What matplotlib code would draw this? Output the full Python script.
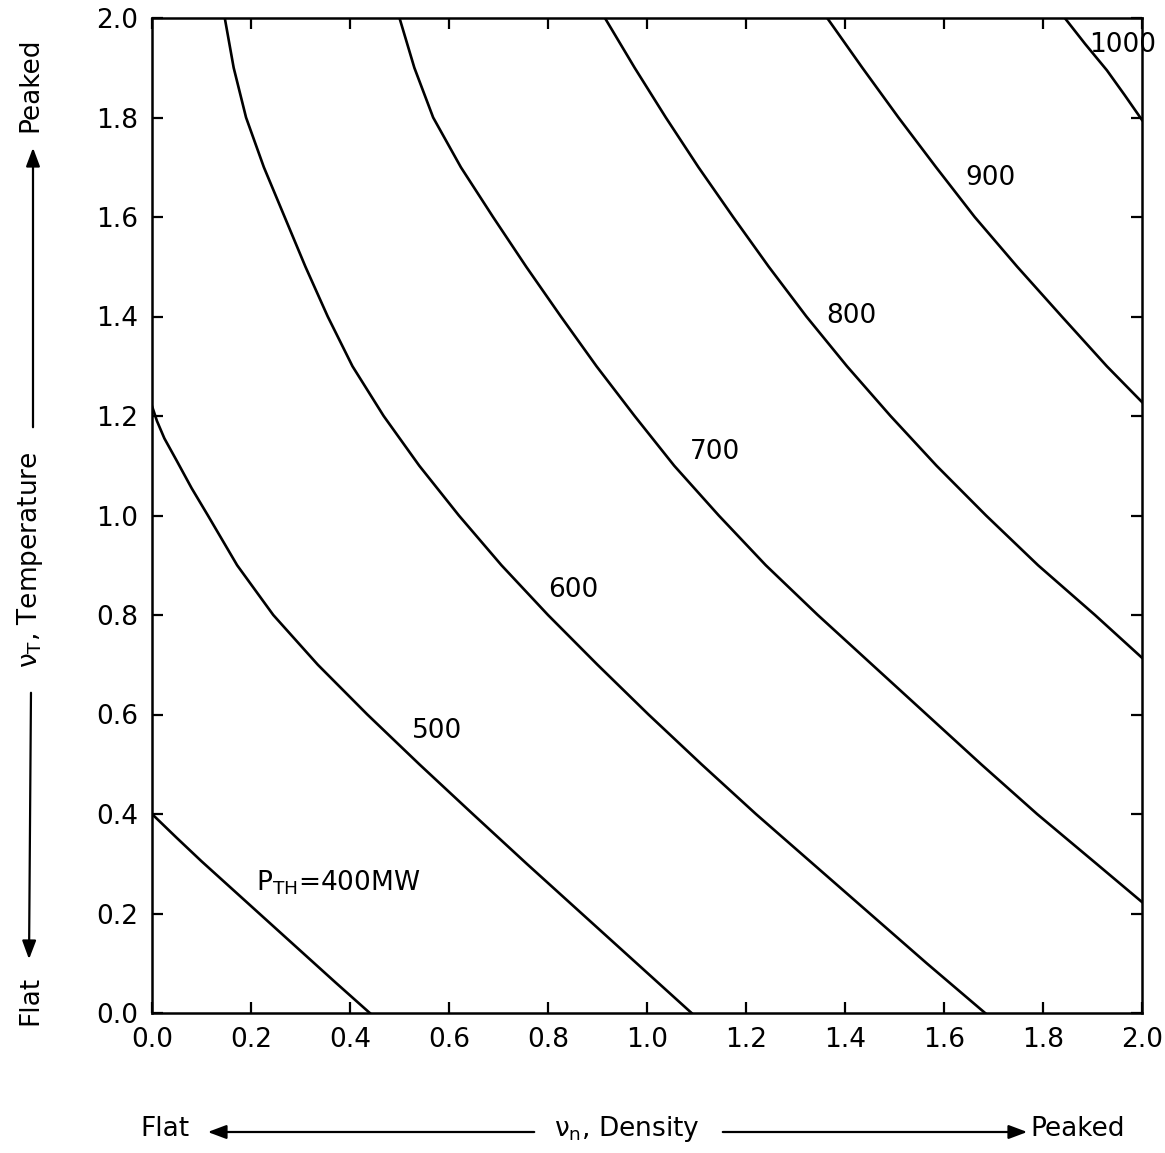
import matplotlib.pyplot as plt
from matplotlib.patches import FancyArrowPatch

plt.rcParams['font.family'] = ['DejaVu Sans']
plt.rcParams['mathtext.fontset'] = 'dejavusans'

# Contour levels of thermal power (MW)
levels = [400, 500, 600, 700, 800, 900, 1000]

# nu_n (x) and nu_T (y) points along each contour
x_400 = [0.0, 0.05, 0.1, 0.2, 0.3, 0.37, 0.44]
y_400 = [0.40, 0.352, 0.305, 0.215, 0.125, 0.062, 0.0]

x_500 = [0.0, 0.01, 0.025, 0.05, 0.08, 0.113, 0.172, 0.245, 0.335, 0.435,
         0.54, 0.648, 0.757, 0.868, 0.979, 1.09]
y_500 = [1.22, 1.19, 1.155, 1.11, 1.055, 1.0, 0.9, 0.8, 0.7, 0.6,
         0.5, 0.4, 0.3, 0.2, 0.1, 0.0]

x_600 = [0.147, 0.165, 0.19, 0.226, 0.268, 0.31, 0.355, 0.405, 0.468, 0.54,
         0.62, 0.706, 0.8, 0.9, 1.003, 1.11, 1.22, 1.335, 1.45, 1.565, 1.683]
y_600 = [2.0, 1.9, 1.8, 1.7, 1.6, 1.5, 1.4, 1.3, 1.2, 1.1,
         1.0, 0.9, 0.8, 0.7, 0.6, 0.5, 0.4, 0.3, 0.2, 0.1, 0.0]

x_700 = [0.5, 0.53, 0.568, 0.624, 0.689, 0.756, 0.826, 0.898, 0.975, 1.055,
         1.145, 1.24, 1.345, 1.455, 1.565, 1.675, 1.788, 1.908, 2.0]
y_700 = [2.0, 1.9, 1.8, 1.7, 1.6, 1.5, 1.4, 1.3, 1.2, 1.1,
         1.0, 0.9, 0.8, 0.7, 0.6, 0.5, 0.4, 0.3, 0.223]

x_800 = [0.915, 0.975, 1.038, 1.104, 1.174, 1.246, 1.322, 1.404, 1.492, 1.585,
         1.685, 1.79, 1.905, 2.0]
y_800 = [2.0, 1.9, 1.8, 1.7, 1.6, 1.5, 1.4, 1.3, 1.2, 1.1,
         1.0, 0.9, 0.8, 0.714]

x_900 = [1.364, 1.435, 1.508, 1.584, 1.662, 1.748, 1.838, 1.929, 2.0]
y_900 = [2.0, 1.9, 1.8, 1.7, 1.6, 1.5, 1.4, 1.3, 1.228]

x_1000 = [1.844, 1.885, 1.929, 1.965, 2.0]
y_1000 = [2.0, 1.948, 1.895, 1.845, 1.795]

curves = [(x_400, y_400), (x_500, y_500), (x_600, y_600), (x_700, y_700),
          (x_800, y_800), (x_900, y_900), (x_1000, y_1000)]

ticks = [0.0, 0.2, 0.4, 0.6, 0.8, 1.0, 1.2, 1.4, 1.6, 1.8, 2.0]
tick_labels = ['0.0', '0.2', '0.4', '0.6', '0.8', '1.0', '1.2', '1.4', '1.6', '1.8', '2.0']

fig = plt.figure(figsize=(11.65, 11.53), dpi=100)
ax = fig.add_axes([152 / 1165, 1 - 1013 / 1153, 990 / 1165, 995 / 1153])

for x, y in curves:
    ax.plot(x, y, color='black', lw=1.9, solid_joinstyle='round')

fs = 19
# contour labels
label_pos = {500: (0.576, 0.567), 600: (0.852, 0.850), 700: (1.137, 1.127),
             800: (1.412, 1.401), 900: (1.693, 1.678), 1000: (1.96, 1.946)}
for lev in levels[1:]:
    lx, ly = label_pos[lev]
    ax.text(lx, ly, str(lev), fontsize=fs, ha='center', va='center')
ax.text(0.21, 0.262, r'P$_{\mathrm{TH}}$=400MW', fontsize=fs, ha='left', va='center')

ax.set_xlim(0, 2)
ax.set_ylim(0, 2)
ax.set_xticks(ticks)
ax.set_yticks(ticks)
ax.set_xticklabels(tick_labels)
ax.set_yticklabels(tick_labels)
ax.tick_params(direction='in', length=8, width=1.6, top=True, right=True,
               labelsize=fs, pad=10)
for s in ax.spines.values():
    s.set_linewidth(1.8)

arrow = dict(arrowstyle='-|>,head_length=0.8,head_width=0.3', color='black',
             lw=1.6, mutation_scale=14, transform=fig.transFigure)

# x axis annotation with arrows
fig.text(140 / 1165, 1 - 1129 / 1153, 'Flat', fontsize=fs, ha='left', va='center')
fig.text(627 / 1165, 1 - 1129 / 1153, r'ν$_{\mathrm{n}}$, Density', fontsize=fs,
         ha='center', va='center')
fig.text(1030 / 1165, 1 - 1129 / 1153, 'Peaked', fontsize=fs, ha='left', va='center')
fig.add_artist(FancyArrowPatch((537 / 1165, 1 - 1132 / 1153),
                               (205 / 1165, 1 - 1132 / 1153), **arrow))
fig.add_artist(FancyArrowPatch((720 / 1165, 1 - 1132 / 1153),
                               (1030 / 1165, 1 - 1132 / 1153), **arrow))

# y axis annotation with arrows
fig.text(30 / 1165, 1 - 85 / 1153, 'Peaked', fontsize=fs, rotation=90,
         ha='center', va='center')
fig.text(30 / 1165, 1 - 560 / 1153, r'ν$_{\mathrm{T}}$, Temperature', fontsize=fs,
         rotation=90, ha='center', va='center')
fig.text(30 / 1165, 1 - 1000 / 1153, 'Flat', fontsize=fs, rotation=90,
         ha='center', va='center')
fig.add_artist(FancyArrowPatch((33 / 1165, 1 - 430 / 1153),
                               (33 / 1165, 1 - 145 / 1153), **arrow))
fig.add_artist(FancyArrowPatch((31 / 1165, 1 - 690 / 1153),
                               (29 / 1165, 1 - 962 / 1153), **arrow))

fig.savefig('out.png', dpi=100)
